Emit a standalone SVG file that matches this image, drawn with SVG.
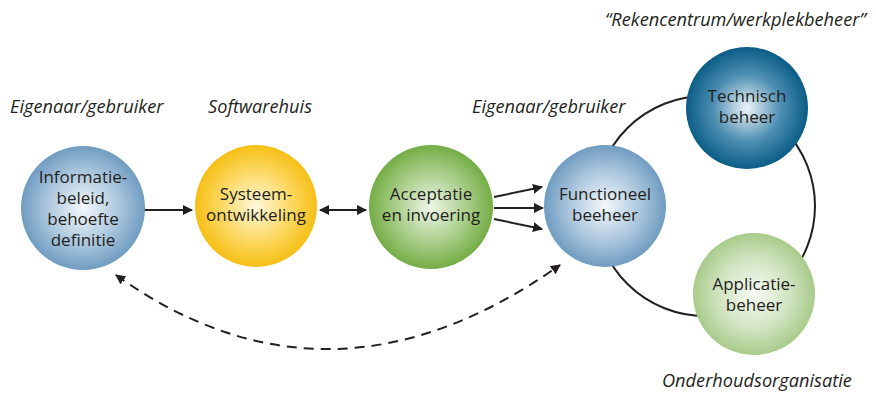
<svg xmlns="http://www.w3.org/2000/svg" width="876" height="393" viewBox="0 0 876 393">
<style>
.lbl{font-family:"Open Sans","Liberation Sans",sans-serif;font-style:italic;font-size:18.2px;fill:#231f20}
.nt{font-family:"Open Sans","Liberation Sans",sans-serif;font-size:17px;fill:#231f20;text-anchor:middle}
.ln{stroke:#231f20;stroke-width:2;fill:none}
</style>
<defs>
<radialGradient id="gBlue" cx="50%" cy="50%" r="50%"><stop offset="0" stop-color="#f4f8fb"/><stop offset="0.6" stop-color="#a9c5dc"/><stop offset="1" stop-color="#6f9cc1"/></radialGradient>
<radialGradient id="gYellow" cx="50%" cy="50%" r="50%"><stop offset="0" stop-color="#fff8dc"/><stop offset="0.6" stop-color="#fcd75e"/><stop offset="1" stop-color="#f6bf16"/></radialGradient>
<radialGradient id="gGreen" cx="50%" cy="50%" r="50%"><stop offset="0" stop-color="#eef6e8"/><stop offset="0.6" stop-color="#a6cc86"/><stop offset="1" stop-color="#74ad45"/></radialGradient>
<radialGradient id="gTeal" cx="50%" cy="50%" r="50%"><stop offset="0" stop-color="#eef5f9"/><stop offset="0.55" stop-color="#4f8fb3"/><stop offset="1" stop-color="#0a5d87"/></radialGradient>
<radialGradient id="gLight" cx="50%" cy="50%" r="50%"><stop offset="0" stop-color="#f8fbf5"/><stop offset="0.6" stop-color="#cfe3bf"/><stop offset="1" stop-color="#a8cb8a"/></radialGradient>
<marker id="ah" viewBox="0 0 10 10" refX="9" refY="5" markerWidth="5" markerHeight="5" orient="auto-start-reverse" markerUnits="strokeWidth"><path d="M0,0 L10,5 L0,10 z" fill="#231f20"/></marker>
</defs>
<rect width="876" height="393" fill="#ffffff"/>

<g id="labels">
<text class="lbl" x="10" y="113">Eigenaar/gebruiker</text>
<text class="lbl" x="208" y="113">Softwarehuis</text>
<text class="lbl" x="472" y="113">Eigenaar/gebruiker</text>
<text class="lbl" x="605" y="26">“Rekencentrum/werkplekbeheer”</text>
<text class="lbl" x="662" y="387">Onderhoudsorganisatie</text>
</g>

<g id="connectors">
<circle class="ln" cx="705" cy="206" r="110" stroke-width="1.8"/>
<line class="ln" x1="144" y1="210" x2="192" y2="210" marker-end="url(#ah)"/>
<line class="ln" x1="320" y1="210" x2="366" y2="210" marker-start="url(#ah)" marker-end="url(#ah)"/>
<line class="ln" x1="494" y1="197" x2="542" y2="187" marker-end="url(#ah)"/>
<line class="ln" x1="494" y1="208" x2="543" y2="208" marker-end="url(#ah)"/>
<line class="ln" x1="494" y1="219" x2="542" y2="229" marker-end="url(#ah)"/>
<path class="ln" d="M116,275 Q330,428 560,265" stroke-dasharray="10,7" marker-start="url(#ah)" marker-end="url(#ah)"/>
</g>

<g id="informatie">
<circle cx="83" cy="208" r="62" fill="url(#gBlue)"/>
<text class="nt" x="83" y="183">Informatie-</text>
<text class="nt" x="83" y="204">beleid,</text>
<text class="nt" x="83" y="225">behoefte</text>
<text class="nt" x="83" y="246">definitie</text>
</g>
<g id="systeem">
<circle cx="256" cy="206" r="61" fill="url(#gYellow)"/>
<text class="nt" x="256" y="200">Systeem-</text>
<text class="nt" x="256" y="221">ontwikkeling</text>
</g>
<g id="acceptatie">
<circle cx="431" cy="207" r="62" fill="url(#gGreen)"/>
<text class="nt" x="431" y="200">Acceptatie</text>
<text class="nt" x="431" y="221">en invoering</text>
</g>
<g id="functioneel">
<circle cx="605" cy="206" r="61" fill="url(#gBlue)"/>
<text class="nt" x="605" y="200">Functioneel</text>
<text class="nt" x="605" y="221">beeheer</text>
</g>
<g id="technisch">
<circle cx="747" cy="108" r="61" fill="url(#gTeal)"/>
<text class="nt" x="747" y="102">Technisch</text>
<text class="nt" x="747" y="123">beheer</text>
</g>
<g id="applicatie">
<circle cx="754" cy="294" r="61" fill="url(#gLight)"/>
<text class="nt" x="754" y="290">Applicatie-</text>
<text class="nt" x="754" y="311">beheer</text>
</g>
</svg>
